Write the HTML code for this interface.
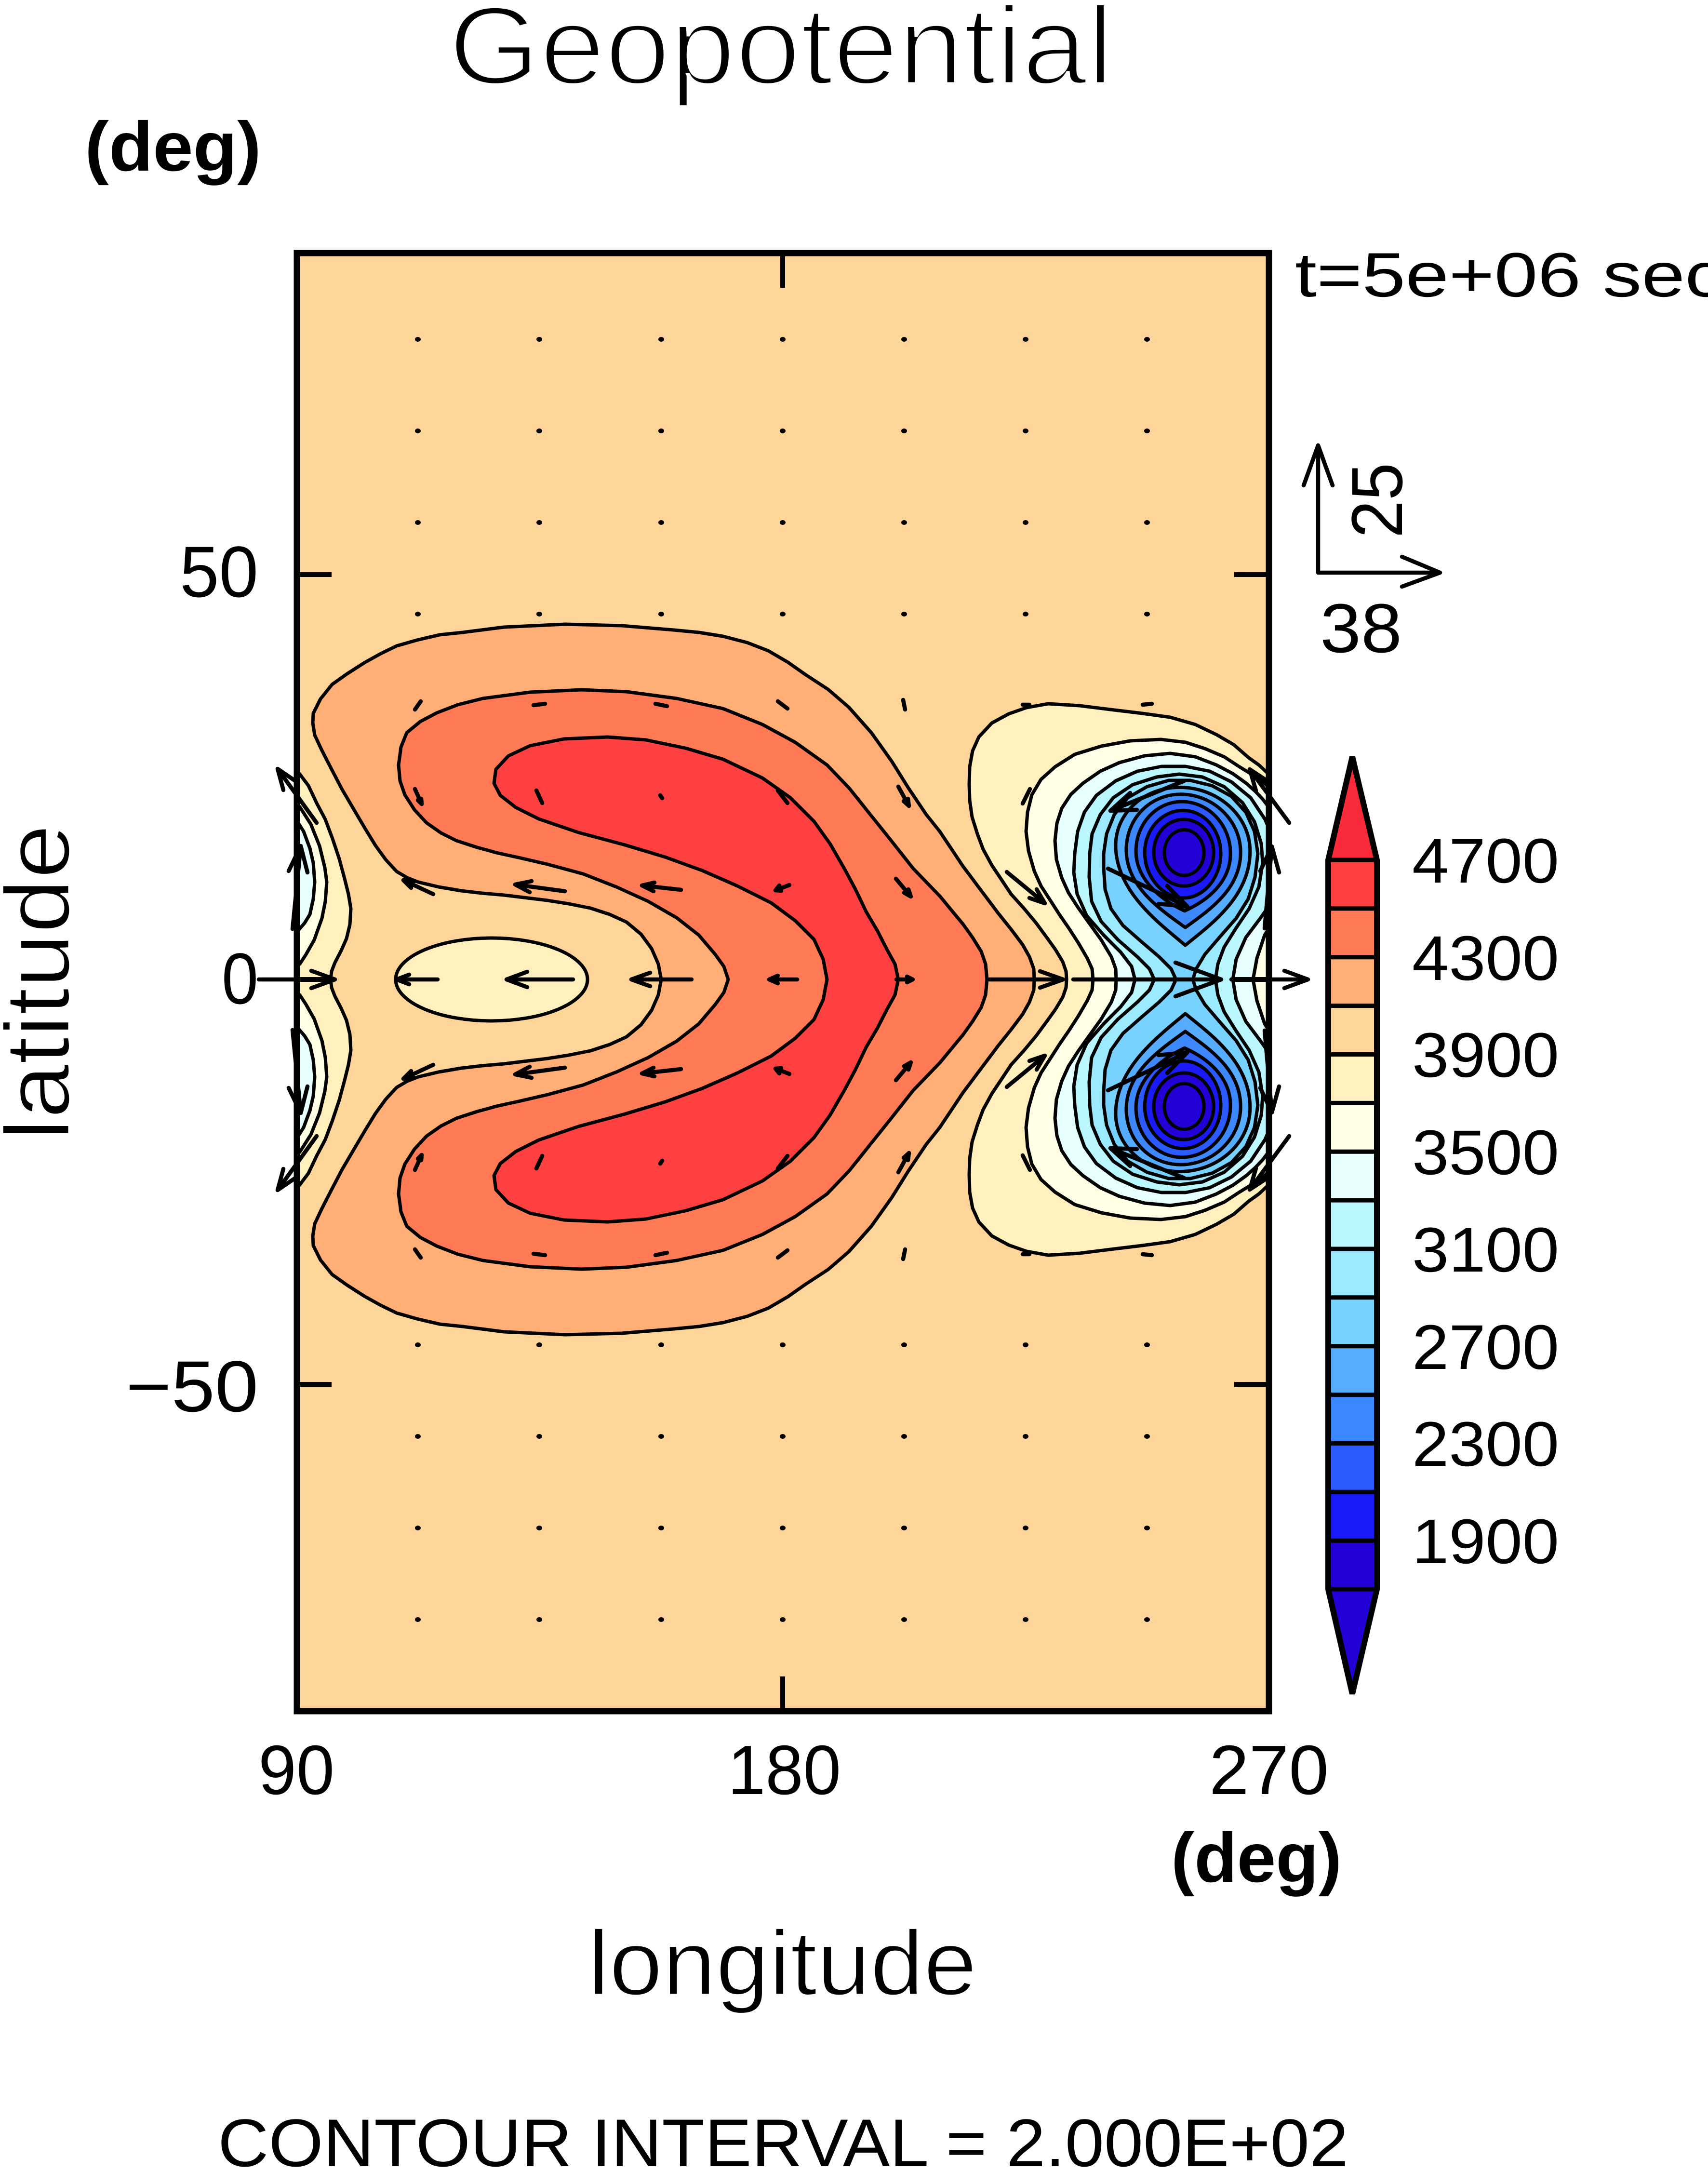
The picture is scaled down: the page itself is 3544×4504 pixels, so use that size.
<!DOCTYPE html>
<html><head><meta charset="utf-8"><style>html,body{margin:0;padding:0;background:#fff}svg{display:block}</style></head>
<body>
<svg xmlns="http://www.w3.org/2000/svg" width="3544" height="4504" viewBox="0 0 3544 4504" font-family="'Liberation Sans', sans-serif">
<defs>
<clipPath id="pc"><rect x="616" y="525" width="2017" height="3025"/></clipPath>
<polyline id="c41" points="2146,2032 2145,2010 2136,1985 2122,1960 2098,1928 2070,1893 2034,1845 1998,1797 1950,1725 1922,1690 1885,1635 1850,1579 1808,1520 1761,1467 1718,1430 1672,1400 1635,1374 1594,1350 1550,1333 1500,1320 1450,1312 1398,1307 1290,1298 1173,1295 1046,1301 960,1312 912,1317 865,1328 823,1340 790,1356 756,1375 720,1398 689,1420 665,1450 650,1480 649,1500 653,1525 667,1555 689,1598 710,1638 734,1679 757,1718 779,1754 800,1783 823,1808 845,1821 868,1830 910,1840 957,1848 1000,1853 1046,1857 1136,1868 1180,1875 1225,1884 1265,1897 1300,1913 1330,1938 1352,1968 1366,2000 1372,2032"/>
<polyline id="c43" points="2048,2032 2045,2000 2036,1974 2018,1945 1998,1917 1950,1859 1895,1802 1850,1745 1806,1690 1762,1635 1716,1587 1650,1540 1582,1503 1500,1470 1404,1449 1300,1435 1207,1431 1100,1436 1002,1449 950,1462 906,1479 872,1497 844,1520 832,1550 827,1587 830,1620 840,1649 860,1680 885,1707 915,1728 947,1744 990,1758 1030,1769 1080,1780 1136,1793 1210,1813 1279,1840 1345,1870 1404,1904 1450,1940 1484,1980 1502,2005 1511,2032"/>
<polyline id="c45" points="1864,2032 1857,2000 1841,1971 1820,1930 1797,1891 1775,1845 1752,1802 1722,1750 1689,1704 1640,1655 1582,1614 1500,1575 1422,1552 1340,1535 1261,1529 1170,1533 1100,1547 1055,1568 1029,1596 1025,1625 1038,1650 1070,1675 1118,1699 1200,1727 1297,1753 1380,1778 1457,1806 1530,1838 1600,1873 1650,1910 1689,1949 1708,1990 1716,2032"/>
<polyline id="l39s" points="605,1592 622,1606 640,1630 657,1666 675,1700 690,1740 704,1782 715,1823 723,1855 728,1885 726,1918 719,1947 708,1972 695,1997 688,2015 686,2032"/>
<polygon id="l39f" points="605,1592 622,1606 640,1630 657,1666 675,1700 690,1740 704,1782 715,1823 723,1855 728,1885 726,1918 719,1947 708,1972 695,1997 688,2015 686,2032 600,2032 600,1592"/>
<polyline id="l37" points="600,1668 622,1674 645,1710 663,1755 674,1800 678,1830 675,1870 668,1905 652,1950 635,1980 622,2000 600,2008"/>
<polyline id="l35" points="600,1700 616,1703 630,1725 643,1760 650,1790 653,1830 650,1865 643,1897 632,1915 618,1931 600,1935"/>
<polyline id="b39" points="2213,2032 2212,2015 2205,1995 2190,1970 2172,1945 2150,1915 2125,1885 2098,1855 2078,1825 2058,1795 2040,1762 2028,1730 2017,1695 2012,1660 2011,1627 2012,1591 2018,1558 2031,1529 2058,1500 2093,1481 2130,1468 2175,1460 2240,1464 2304,1472 2370,1480 2428,1488 2480,1503 2524,1524 2560,1545 2591,1572 2612,1587 2627,1601 2680,1650 2720,1780 2720,2032"/>
<polyline id="b37" points="2268,2032 2266,2010 2256,1988 2238,1957 2218,1926 2198,1897 2180,1869 2160,1838 2146,1807 2134,1765 2129,1725 2132,1685 2141,1649 2160,1617 2189,1591 2230,1565 2285,1548 2345,1537 2409,1534 2460,1540 2500,1553 2540,1570 2572,1591 2600,1608 2624,1625 2680,1680 2700,1800 2700,2032"/>
<polyline id="b35" points="2316,2032 2315,2010 2306,1985 2285,1950 2262,1918 2237,1883 2217,1852 2203,1821 2192,1783 2189,1744 2193,1708 2203,1677 2222,1648 2247,1625 2283,1600 2323,1582 2375,1568 2428,1563 2480,1570 2524,1587 2558,1605 2586,1625 2605,1642 2620,1658 2633,1675 2665,1730 2670,1830 2650,1900 2624,1940 2608,1988 2600,2032"/>
<polyline id="b33" points="2355,2032 2348,2005 2325,1975 2290,1940 2255,1900 2235,1855 2228,1810 2230,1771 2236,1725 2250,1685 2275,1650 2315,1620 2360,1600 2410,1590 2460,1590 2510,1600 2555,1622 2595,1655 2625,1700 2650,1760 2655,1820 2640,1870 2615,1905 2585,1945 2565,1990 2558,2032"/>
<polyline id="b31" points="2395,2032 2385,2010 2360,1985 2320,1950 2285,1912 2265,1870 2260,1820 2261,1771 2266,1730 2283,1690 2310,1655 2350,1628 2400,1612 2447,1606 2495,1612 2540,1632 2578,1665 2603,1705 2617,1750 2620,1790 2612,1840 2592,1885 2565,1925 2540,1965 2527,2000 2522,2032"/>
<polyline id="b29" points="2440,2032 2430,2010 2405,1985 2370,1955 2330,1920 2305,1885 2293,1845 2290,1800 2290,1771 2296,1730 2312,1690 2340,1655 2380,1632 2425,1619 2470,1619 2515,1630 2555,1652 2585,1685 2603,1725 2610,1771 2604,1820 2590,1865 2565,1905 2530,1945 2500,1980 2482,2010 2475,2032"/>
<g id="rings" stroke="#000" stroke-width="14.6" stroke-linejoin="round">
<path fill="#56adff" d="M1040,488 C1205,488 1346,610 1346,765 C1346,960 1180,1080 1065,1173 C955,1080 763,940 763,740 C763,600 885,488 1040,488Z"/>
<path fill="#3d88ff" d="M1045,518 C1185,518 1305,630 1305,770 C1305,930 1170,1020 1065,1096 C960,1020 809,920 809,760 C809,620 915,518 1045,518Z"/>
<path fill="#2b5aff" d="M1050,550 C1165,550 1261,650 1261,775 C1261,900 1160,980 1062,1024 C965,980 851,890 851,765 C851,645 940,550 1050,550Z"/>
<path fill="#1a1af8" d="M1055,588 C1145,588 1219,670 1219,775 C1219,880 1145,968 1058,968 C970,968 889,880 889,770 C889,670 965,588 1055,588Z"/>
<path fill="#2300d6" d="M1058,627 C1130,627 1188,690 1188,770 C1188,850 1130,916 1060,916 C988,916 928,850 928,770 C928,690 986,627 1058,627Z"/>
<ellipse fill="#2300d6" cx="1060" cy="771" rx="86" ry="99"/>
</g>
<g id="arrN">
<path d="M607,1927 L624,1755 M599,1807 L624,1755 L638,1810"/>
<path d="M899,1855 L837,1826 M853,1842 L837,1826 L860,1828"/>
<path d="M1172,1849 L1069,1835 M1099,1851 L1069,1835 L1103,1828"/>
<path d="M1413,1846 L1332,1837 M1356,1849 L1332,1837 L1358,1831"/>
<path d="M1638,1836 L1609,1847 M1617,1837 L1609,1847 L1621,1848"/>
<path d="M1859,1823 L1890,1860 M1885,1845 L1890,1860 L1876,1852"/>
<path d="M2089,1809 L2168,1874 M2151,1845 L2168,1874 L2136,1863"/>
<path d="M2299,1802 L2464,1881 M2422,1838 L2464,1881 L2404,1875"/>
<path d="M2624,1926 L2639,1756 M2615,1807 L2639,1756 L2654,1810"/>
<path d="M657,1707 L576,1595 M588,1639 L576,1595 L614,1621"/>
<path d="M861,1637 L875,1668 M874,1657 L875,1668 L867,1660"/>
<path d="M1113,1640 L1125,1666"/>
<path d="M1370,1650 L1374,1656"/>
<path d="M1614,1640 L1634,1666"/>
<path d="M1864,1632 L1886,1672 M1884,1657 L1886,1672 L1875,1662"/>
<path d="M2137,1637 L2122,1667"/>
<path d="M2457,1620 L2304,1682 M2359,1680 L2304,1682 L2345,1645"/>
<path d="M2675,1707 L2593,1596 M2606,1640 L2593,1596 L2631,1621"/>
<path d="M873,1455 L861,1472"/>
<path d="M1107,1463 L1131,1460"/>
<path d="M1360,1460 L1384,1465"/>
<path d="M1614,1455 L1634,1470"/>
<path d="M1874,1452 L1878,1472"/>
<path d="M2136,1462 L2122,1462"/>
<path d="M2371,1462 L2390,1460"/>
</g>
<g id="dotsN" fill="#000">
<ellipse cx="867" cy="1274" rx="6" ry="5"/><ellipse cx="1119" cy="1274" rx="6" ry="5"/><ellipse cx="1372" cy="1274" rx="6" ry="5"/><ellipse cx="1624" cy="1274" rx="6" ry="5"/><ellipse cx="1876" cy="1274" rx="6" ry="5"/><ellipse cx="2128" cy="1274" rx="6" ry="5"/><ellipse cx="2380" cy="1274" rx="6" ry="5"/>
<ellipse cx="867" cy="1084" rx="6" ry="5"/><ellipse cx="1119" cy="1084" rx="6" ry="5"/><ellipse cx="1372" cy="1084" rx="6" ry="5"/><ellipse cx="1624" cy="1084" rx="6" ry="5"/><ellipse cx="1876" cy="1084" rx="6" ry="5"/><ellipse cx="2128" cy="1084" rx="6" ry="5"/><ellipse cx="2380" cy="1084" rx="6" ry="5"/>
<ellipse cx="867" cy="894" rx="6" ry="5"/><ellipse cx="1119" cy="894" rx="6" ry="5"/><ellipse cx="1372" cy="894" rx="6" ry="5"/><ellipse cx="1624" cy="894" rx="6" ry="5"/><ellipse cx="1876" cy="894" rx="6" ry="5"/><ellipse cx="2128" cy="894" rx="6" ry="5"/><ellipse cx="2380" cy="894" rx="6" ry="5"/>
<ellipse cx="867" cy="704" rx="6" ry="5"/><ellipse cx="1119" cy="704" rx="6" ry="5"/><ellipse cx="1372" cy="704" rx="6" ry="5"/><ellipse cx="1624" cy="704" rx="6" ry="5"/><ellipse cx="1876" cy="704" rx="6" ry="5"/><ellipse cx="2128" cy="704" rx="6" ry="5"/><ellipse cx="2380" cy="704" rx="6" ry="5"/>
</g>
</defs>

<g clip-path="url(#pc)">
<rect x="616" y="525" width="2017" height="3025" fill="#fdd598"/>
<!-- fills -->
<use href="#c41" fill="#ffae75"/><use href="#c41" fill="#ffae75" transform="matrix(1 0 0 -1 0 4064)"/>
<use href="#c43" fill="#ff7a55"/><use href="#c43" fill="#ff7a55" transform="matrix(1 0 0 -1 0 4064)"/>
<use href="#c45" fill="#ff4040"/><use href="#c45" fill="#ff4040" transform="matrix(1 0 0 -1 0 4064)"/>
<ellipse cx="1020" cy="2032" rx="199" ry="86" fill="#fff0be"/>
<use href="#l39f" fill="#fff0be"/><use href="#l39f" fill="#fff0be" transform="matrix(1 0 0 -1 0 4064)"/>
<use href="#l37" fill="#ffffe6"/><use href="#l37" fill="#ffffe6" transform="matrix(1 0 0 -1 0 4064)"/>
<use href="#l35" fill="#e6ffff"/><use href="#l35" fill="#e6ffff" transform="matrix(1 0 0 -1 0 4064)"/>
<use href="#b39" fill="#fff0be"/><use href="#b39" fill="#fff0be" transform="matrix(1 0 0 -1 0 4064)"/>
<use href="#b37" fill="#ffffe6"/><use href="#b37" fill="#ffffe6" transform="matrix(1 0 0 -1 0 4064)"/>
<use href="#b35" fill="#e6ffff"/><use href="#b35" fill="#e6ffff" transform="matrix(1 0 0 -1 0 4064)"/>
<use href="#b33" fill="#bbf7ff"/><use href="#b33" fill="#bbf7ff" transform="matrix(1 0 0 -1 0 4064)"/>
<use href="#b31" fill="#9beaff"/><use href="#b31" fill="#9beaff" transform="matrix(1 0 0 -1 0 4064)"/>
<use href="#b29" fill="#77d2ff"/><use href="#b29" fill="#77d2ff" transform="matrix(1 0 0 -1 0 4064)"/>
<!-- contour lines -->
<g fill="none" stroke="#000" stroke-width="7" stroke-linejoin="round" stroke-linecap="round">
<use href="#c41"/><use href="#c41" transform="matrix(1 0 0 -1 0 4064)"/>
<use href="#c43"/><use href="#c43" transform="matrix(1 0 0 -1 0 4064)"/>
<use href="#c45"/><use href="#c45" transform="matrix(1 0 0 -1 0 4064)"/>
<ellipse cx="1020" cy="2032" rx="199" ry="86"/>
<use href="#l39s"/><use href="#l39s" transform="matrix(1 0 0 -1 0 4064)"/>
<use href="#l37"/><use href="#l37" transform="matrix(1 0 0 -1 0 4064)"/>
<use href="#l35"/><use href="#l35" transform="matrix(1 0 0 -1 0 4064)"/>
<use href="#b39"/><use href="#b39" transform="matrix(1 0 0 -1 0 4064)"/>
<use href="#b37"/><use href="#b37" transform="matrix(1 0 0 -1 0 4064)"/>
<use href="#b35"/><use href="#b35" transform="matrix(1 0 0 -1 0 4064)"/>
<use href="#b33"/><use href="#b33" transform="matrix(1 0 0 -1 0 4064)"/>
<use href="#b31"/><use href="#b31" transform="matrix(1 0 0 -1 0 4064)"/>
<use href="#b29"/><use href="#b29" transform="matrix(1 0 0 -1 0 4064)"/>
</g>
<use href="#rings" transform="translate(1950,1400) scale(0.4783)"/>
<use href="#rings" transform="translate(1950,2664) scale(0.4783,-0.4783)"/>
</g>

<!-- frame and ticks -->
<rect x="616" y="525" width="2017" height="3025" fill="none" stroke="#000" stroke-width="13"/>
<g stroke="#000" stroke-width="10">
<line x1="616" y1="1192" x2="688" y2="1192"/><line x1="616" y1="2032" x2="688" y2="2032"/><line x1="616" y1="2872" x2="688" y2="2872"/>
<line x1="2633" y1="1192" x2="2561" y2="1192"/><line x1="2633" y1="2032" x2="2561" y2="2032"/><line x1="2633" y1="2872" x2="2561" y2="2872"/>
<line x1="1624" y1="525" x2="1624" y2="597"/><line x1="1624" y1="3550" x2="1624" y2="3478"/>
</g>

<!-- vectors -->
<use href="#dotsN"/><use href="#dotsN" transform="matrix(1 0 0 -1 0 4064)"/>
<g fill="none" stroke="#000" stroke-width="8.5" stroke-linecap="round" stroke-linejoin="round">
<use href="#arrN"/><use href="#arrN" transform="matrix(1 0 0 -1 0 4064)"/>
<path d="M537,2032 L695,2032 M646,2014 L695,2032 L646,2050"/>
<path d="M908,2032 L823,2032 M849,2022 L823,2032 L849,2042"/>
<path d="M1189,2032 L1051,2032 M1094,2016 L1051,2032 L1094,2048"/>
<path d="M1435,2032 L1310,2032 M1349,2018 L1310,2032 L1349,2046"/>
<path d="M1654,2032 L1596,2032 M1614,2024 L1596,2032 L1614,2040"/>
<path d="M1860,2032 L1894,2032 M1882,2026 L1894,2032 L1882,2038"/>
<path d="M2053,2032 L2206,2032 M2158,2015 L2206,2032 L2158,2049"/>
<path d="M2227,2032 L2534,2032 M2439,1997 L2534,2032 L2439,2067"/>
<path d="M2555,2032 L2714,2032 M2665,2014 L2714,2032 L2665,2050"/>
<!-- legend vector -->
<path d="M2735,1188 L2735,924 M2705,1007 L2735,924 L2765,1007"/>
<path d="M2735,1188 L2988,1188 M2909,1155 L2988,1188 L2909,1217"/>
</g>

<!-- colorbar -->
<g>
<polygon points="2806,1570 2857,1784 2756,1784" fill="#f92a3a"/>
<rect x="2756" y="1784" width="101" height="101" fill="#ff4040"/>
<rect x="2756" y="1884.9" width="101" height="101" fill="#ff7a55"/>
<rect x="2756" y="1985.7" width="101" height="101" fill="#ffae75"/>
<rect x="2756" y="2086.6" width="101" height="101" fill="#fdd598"/>
<rect x="2756" y="2187.5" width="101" height="101" fill="#fff0be"/>
<rect x="2756" y="2288.4" width="101" height="101" fill="#ffffe6"/>
<rect x="2756" y="2389.2" width="101" height="101" fill="#e6ffff"/>
<rect x="2756" y="2490.1" width="101" height="101" fill="#bbf7ff"/>
<rect x="2756" y="2591" width="101" height="101" fill="#9beaff"/>
<rect x="2756" y="2691.8" width="101" height="101" fill="#77d2ff"/>
<rect x="2756" y="2792.7" width="101" height="101" fill="#56adff"/>
<rect x="2756" y="2893.6" width="101" height="101" fill="#3d88ff"/>
<rect x="2756" y="2994.4" width="101" height="101" fill="#2b5aff"/>
<rect x="2756" y="3095.3" width="101" height="101" fill="#1a1af8"/>
<rect x="2756" y="3196.2" width="101" height="100.8" fill="#2300d6"/>
<polygon points="2756,3297 2857,3297 2806,3514" fill="#2300d6"/>
<g stroke="#000" stroke-width="9">
<line x1="2756" y1="1784" x2="2857" y2="1784"/><line x1="2756" y1="1884.9" x2="2857" y2="1884.9"/>
<line x1="2756" y1="1985.7" x2="2857" y2="1985.7"/><line x1="2756" y1="2086.6" x2="2857" y2="2086.6"/>
<line x1="2756" y1="2187.5" x2="2857" y2="2187.5"/><line x1="2756" y1="2288.4" x2="2857" y2="2288.4"/>
<line x1="2756" y1="2389.2" x2="2857" y2="2389.2"/><line x1="2756" y1="2490.1" x2="2857" y2="2490.1"/>
<line x1="2756" y1="2591" x2="2857" y2="2591"/><line x1="2756" y1="2691.8" x2="2857" y2="2691.8"/>
<line x1="2756" y1="2792.7" x2="2857" y2="2792.7"/><line x1="2756" y1="2893.6" x2="2857" y2="2893.6"/>
<line x1="2756" y1="2994.4" x2="2857" y2="2994.4"/><line x1="2756" y1="3095.3" x2="2857" y2="3095.3"/>
<line x1="2756" y1="3196.2" x2="2857" y2="3196.2"/><line x1="2756" y1="3297" x2="2857" y2="3297"/>
</g>
<path d="M2806,1570 L2857,1784 L2857,3297 L2806,3514 L2756,3297 L2756,1784 Z" fill="none" stroke="#000" stroke-width="12"/>
</g>

<!-- text -->
<g fill="#000">
<text x="931" y="174" font-size="230" textLength="1379" lengthAdjust="spacingAndGlyphs" stroke="#fff" stroke-width="7">Geopotential</text>
<text x="176" y="354" font-size="145" font-weight="bold" textLength="366" lengthAdjust="spacingAndGlyphs">(deg)</text>
<text x="2687" y="615" font-size="130" textLength="890" lengthAdjust="spacingAndGlyphs">t=5e+06 sec</text>
<text transform="translate(2909,1116) rotate(-90)" font-size="150" textLength="156" lengthAdjust="spacingAndGlyphs">25</text>
<text x="2739" y="1353" font-size="144" textLength="170" lengthAdjust="spacingAndGlyphs">38</text>
<text x="373" y="1238" font-size="150" textLength="163" lengthAdjust="spacingAndGlyphs">50</text>
<text x="460" y="2082" font-size="150" textLength="76" lengthAdjust="spacingAndGlyphs">0</text>
<text x="261" y="2928" font-size="150" textLength="275" lengthAdjust="spacingAndGlyphs">−50</text>
<text transform="translate(143,2366) rotate(-90)" font-size="190" textLength="656" lengthAdjust="spacingAndGlyphs" stroke="#fff" stroke-width="3">latitude</text>
<text x="536" y="3722" font-size="145" textLength="158" lengthAdjust="spacingAndGlyphs">90</text>
<text x="1510" y="3722" font-size="145" textLength="235" lengthAdjust="spacingAndGlyphs">180</text>
<text x="2509" y="3722" font-size="145" textLength="248" lengthAdjust="spacingAndGlyphs">270</text>
<text x="2430" y="3904" font-size="145" font-weight="bold" textLength="354" lengthAdjust="spacingAndGlyphs">(deg)</text>
<text x="1220" y="4138" font-size="190" textLength="807" lengthAdjust="spacingAndGlyphs" stroke="#fff" stroke-width="3">longitude</text>
<text x="452" y="4494" font-size="140" textLength="2346" lengthAdjust="spacingAndGlyphs">CONTOUR INTERVAL = 2.000E+02</text>
<g font-size="131">
<text x="2930" y="1831" textLength="305" lengthAdjust="spacingAndGlyphs">4700</text>
<text x="2930" y="2033" textLength="305" lengthAdjust="spacingAndGlyphs">4300</text>
<text x="2930" y="2234" textLength="305" lengthAdjust="spacingAndGlyphs">3900</text>
<text x="2930" y="2436" textLength="305" lengthAdjust="spacingAndGlyphs">3500</text>
<text x="2930" y="2638" textLength="305" lengthAdjust="spacingAndGlyphs">3100</text>
<text x="2930" y="2840" textLength="305" lengthAdjust="spacingAndGlyphs">2700</text>
<text x="2930" y="3041" textLength="305" lengthAdjust="spacingAndGlyphs">2300</text>
<text x="2930" y="3243" textLength="305" lengthAdjust="spacingAndGlyphs">1900</text>
</g>
</g>
</svg>
</body></html>
